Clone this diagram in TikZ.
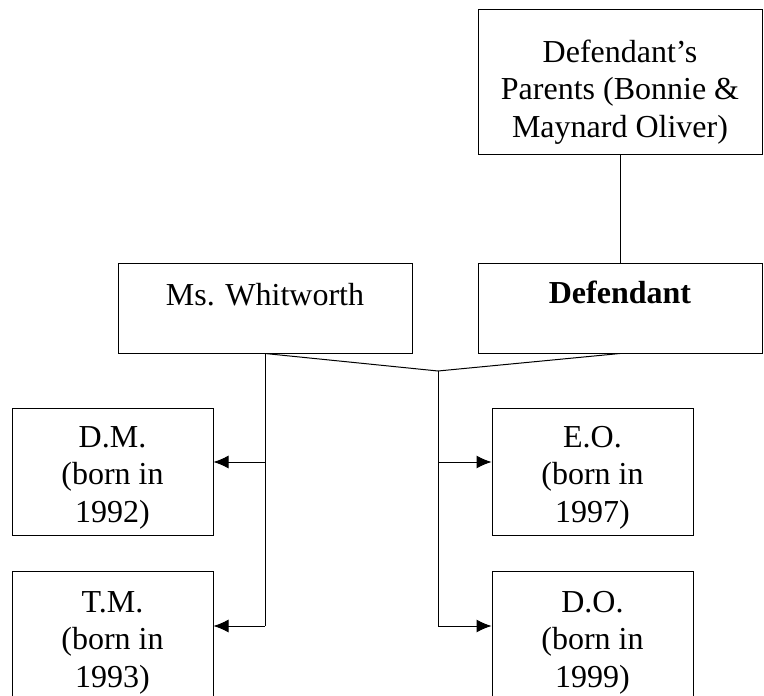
\documentclass[tikz,border=0pt]{standalone}
\usepackage{fontspec}
\setmainfont{Liberation Serif}
\usetikzlibrary{arrows.meta,positioning}

\tikzset{
	famlybox/.style={draw=black,line width=1pt,align=center,inner sep=0pt,
		font=\fontsize{32}{37.5}\selectfont},
	famlyline/.style={draw=black,line width=1pt},
	kidarrow/.style={famlyline,-{Latex[length=15pt,width=13pt]}}
}

\begin{document}
\begin{tikzpicture}[x=1pt,y=1pt]
	\useasboundingbox (0,0) rectangle (764,-696);
	%% the couple and the parents
	\node[famlybox,minimum width=284pt,text height=128pt,text depth=17pt] (parents) at (620,-81.5) {Defendant's\\Parents (Bonnie \&\\Maynard Oliver)};
	\node[famlybox,minimum width=294pt,text height=42pt,text depth=48pt] (whitworth) at (265,-308) {Ms. Whitworth};
	\node[famlybox,minimum width=284pt,text height=40pt,text depth=50pt] (defendant) at (620,-308) {\bfseries Defendant};
	%% the children
	\node[famlybox,minimum width=201pt,text height=114pt,text depth=13pt] (dm) at (112.5,-471.5) {D.M.\\(born in\\1992)};
	\node[famlybox,minimum width=201pt,text height=116pt,text depth=11pt] (tm) at (112.5,-634.5) {T.M.\\(born in\\1993)};
	\node[famlybox,minimum width=201pt,text height=114pt,text depth=13pt] (eo) at (592.5,-471.5) {E.O.\\(born in\\1997)};
	\node[famlybox,minimum width=201pt,text height=116pt,text depth=11pt] (do) at (592.5,-634.5) {D.O.\\(born in\\1999)};
	% the joints of the lines
	\coordinate (split) at (438,-371);
	\coordinate (lup) at (whitworth.south |- 0,-462);
	\coordinate (ldown) at (whitworth.south |- 0,-626);
	\coordinate (rup) at (split |- 0,-462);
	\coordinate (rdown) at (split |- 0,-626);
	%% the lines
	\draw[famlyline] (parents.south) -- (defendant.north);
	\draw[famlyline] (whitworth.south) -- (split) -- (defendant.south);
	\draw[famlyline] (whitworth.south) -- (ldown);
	\draw[famlyline] (split) -- (rdown);
	\draw[kidarrow] (lup) -- (lup -| dm.east);
	\draw[kidarrow] (ldown) -- (ldown -| tm.east);
	\draw[kidarrow] (rup) -- (rup -| eo.west);
	\draw[kidarrow] (rdown) -- (rdown -| do.west);
\end{tikzpicture}
\end{document}
